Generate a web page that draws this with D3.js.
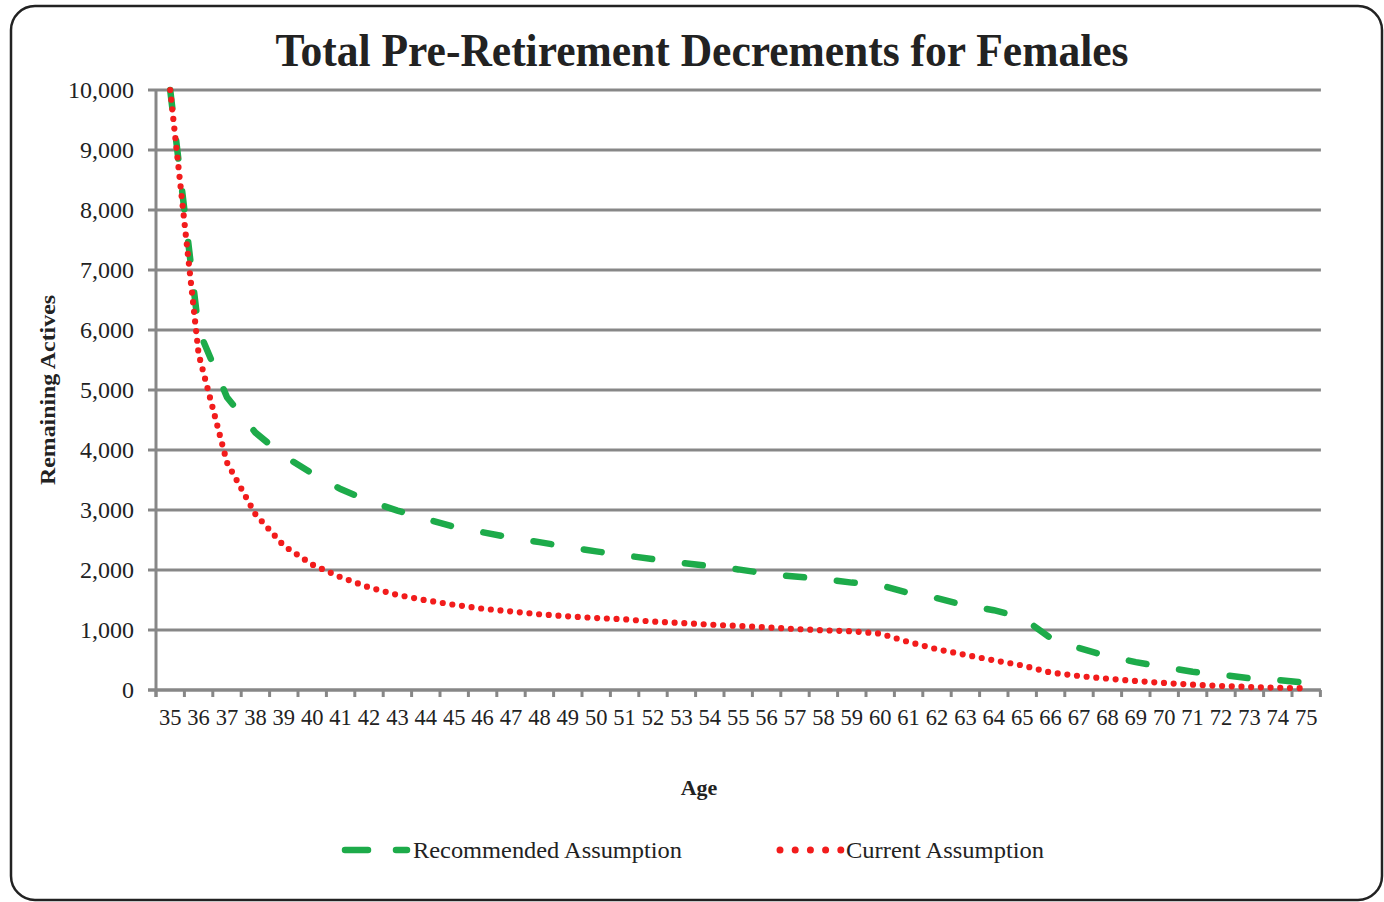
<!DOCTYPE html>
<html>
<head>
<meta charset="utf-8">
<script src="https://cdn.jsdelivr.net/npm/d3@7"></script>
<style>
	body{ margin:0; background:#fff; }
	svg text{ font-family:"Liberation Serif","Times New Roman",serif; fill:#222; }
</style>
</head>
<body>
<script>
//chart data
var ages =[35,36,37,38,39,40,41,42,43,44,45,46,47,48,49,50,51,52,53,54,55,
	56,57,58,59,60,61,62,63,64,65,66,67,68,69,70,71,72,73,74,75];

var recommended =[10000,6000,4880,4290,3900,3610,3350,3150,2990,2850,2720,
	2630,2540,2465,2385,2310,2245,2180,2120,2065,2010,1940,1890,1850,1790,1750,
	1615,1530,1410,1330,1210,865,700,565,465,380,305,255,195,165,120];

var current =[10000,5600,3790,2930,2405,2090,1880,1710,1585,1495,1420,
	1355,1310,1262,1228,1200,1178,1140,1117,1090,1067,1044,1017,995,978,940,
	800,680,585,495,410,290,233,189,150,117,89,67,50,38,28];

var yTicks =[0,1000,2000,3000,4000,5000,6000,7000,8000,9000,10000];

var seriesNames =["Recommended Assumption","Current Assumption"];

(function(){
	var width =1384,
		height =902,
		left =156,
		right =1320.4,
		top =90,
		bottom =690;

	var green ="#1dab4a",
		red ="#f21c1c",
		grid ="#878787";

	var svg =d3.select("body")
		.append("svg")
		.attr("width", width)
		.attr("height", height);

	//rounded frame
	svg.append("rect")
		.attr("x", 11)
		.attr("y", 6)
		.attr("width", 1371)
		.attr("height", 894)
		.attr("rx", 24)
		.attr("fill", "#fff")
		.attr("stroke", "#222")
		.attr("stroke-width", 2.5);

	var x =d3.scaleBand()
		.domain(ages)
		.range([left, right])
		.padding(0);

	var y =d3.scaleLinear()
		.domain([0, 10000])
		.range([bottom, top]);

	//gridlines
	svg.selectAll(".grid")
		.data(yTicks)
		.enter()
		.append("line")
		.attr("class", "grid")
		.attr("x1", left - 8)
		.attr("x2", right + 0.5)
		.attr("y1", function(d){ return y(d); })
		.attr("y2", function(d){ return y(d); })
		.attr("stroke", grid)
		.attr("stroke-width", 3);

	//y axis line
	svg.append("line")
		.attr("x1", left)
		.attr("x2", left)
		.attr("y1", top)
		.attr("y2", bottom + 7)
		.attr("stroke", grid)
		.attr("stroke-width", 3);

	//x axis ticks at category edges
	var edges =ages.map(function(a){ return x(a); }).concat([right]);
	svg.selectAll(".xtick")
		.data(edges)
		.enter()
		.append("line")
		.attr("class", "xtick")
		.attr("x1", function(d){ return d; })
		.attr("x2", function(d){ return d; })
		.attr("y1", bottom)
		.attr("y2", bottom + 7)
		.attr("stroke", grid)
		.attr("stroke-width", 3);

	//y labels
	var yAxis =d3.axisLeft(y)
		.tickValues(yTicks)
		.tickSize(0)
		.tickPadding(22)
		.tickFormat(d3.format(","));

	var yg =svg.append("g")
		.attr("transform", "translate(" + left + ",0)")
		.call(yAxis);
	yg.select(".domain").remove();
	yg.selectAll("text")
		.style("font-size", "24px")
		.attr("dy", "0.33em");

	//x labels
	var xAxis =d3.axisBottom(x)
		.tickSize(0)
		.tickPadding(0);

	var xg =svg.append("g")
		.attr("transform", "translate(0," + bottom + ")")
		.call(xAxis);
	xg.select(".domain").remove();
	xg.selectAll("text")
		.style("font-size", "22.5px")
		.attr("y", 35)
		.attr("dy", 0);

	//x axis line
	svg.append("line")
		.attr("x1", left - 8)
		.attr("x2", right + 0.5)
		.attr("y1", bottom)
		.attr("y2", bottom)
		.attr("stroke", grid)
		.attr("stroke-width", 3);

	var line =function(values){
		return d3.line()
			.x(function(d, i){ return x(ages[i]) + x.bandwidth() / 2; })
			.y(function(d){ return y(d); })(values);
	};

	svg.append("path")
		.attr("d", line(recommended))
		.attr("fill", "none")
		.attr("stroke", green)
		.attr("stroke-width", 6.5)
		.attr("stroke-linecap", "round")
		.attr("stroke-dasharray", "18,33");

	svg.append("path")
		.attr("d", line(current))
		.attr("fill", "none")
		.attr("stroke", red)
		.attr("stroke-width", 6.2)
		.attr("stroke-linecap", "round")
		.attr("stroke-dasharray", "0,9.7");

	//titles
	svg.append("text")
		.attr("x", 702)
		.attr("y", 66)
		.attr("text-anchor", "middle")
		.attr("textLength", 853)
		.attr("lengthAdjust", "spacingAndGlyphs")
		.style("font-size", "46px")
		.style("font-weight", "bold")
		.text("Total Pre-Retirement Decrements for Females");

	svg.append("text")
		.attr("transform", "translate(55,390) rotate(-90)")
		.attr("text-anchor", "middle")
		.attr("textLength", 190)
		.attr("lengthAdjust", "spacingAndGlyphs")
		.style("font-size", "22px")
		.style("font-weight", "bold")
		.text("Remaining Actives");

	svg.append("text")
		.attr("x", 699)
		.attr("y", 795)
		.attr("text-anchor", "middle")
		.style("font-size", "22px")
		.style("font-weight", "bold")
		.text("Age");

	//legend
	var legend =svg.append("g");

	legend.append("line")
		.attr("x1", 345)
		.attr("x2", 407)
		.attr("y1", 850)
		.attr("y2", 850)
		.attr("stroke", green)
		.attr("stroke-width", 6.5)
		.attr("stroke-linecap", "round")
		.attr("stroke-dasharray", "23,28");

	legend.append("text")
		.attr("x", 413)
		.attr("y", 858)
		.attr("textLength", 269)
		.attr("lengthAdjust", "spacingAndGlyphs")
		.style("font-size", "24px")
		.text(seriesNames[0]);

	legend.append("line")
		.attr("x1", 780)
		.attr("x2", 841)
		.attr("y1", 850)
		.attr("y2", 850)
		.attr("stroke", red)
		.attr("stroke-width", 7)
		.attr("stroke-linecap", "round")
		.attr("stroke-dasharray", "0,15.2");

	legend.append("text")
		.attr("x", 846)
		.attr("y", 858)
		.attr("textLength", 198)
		.attr("lengthAdjust", "spacingAndGlyphs")
		.style("font-size", "24px")
		.text(seriesNames[1]);
})();
</script>
</body>
</html>
